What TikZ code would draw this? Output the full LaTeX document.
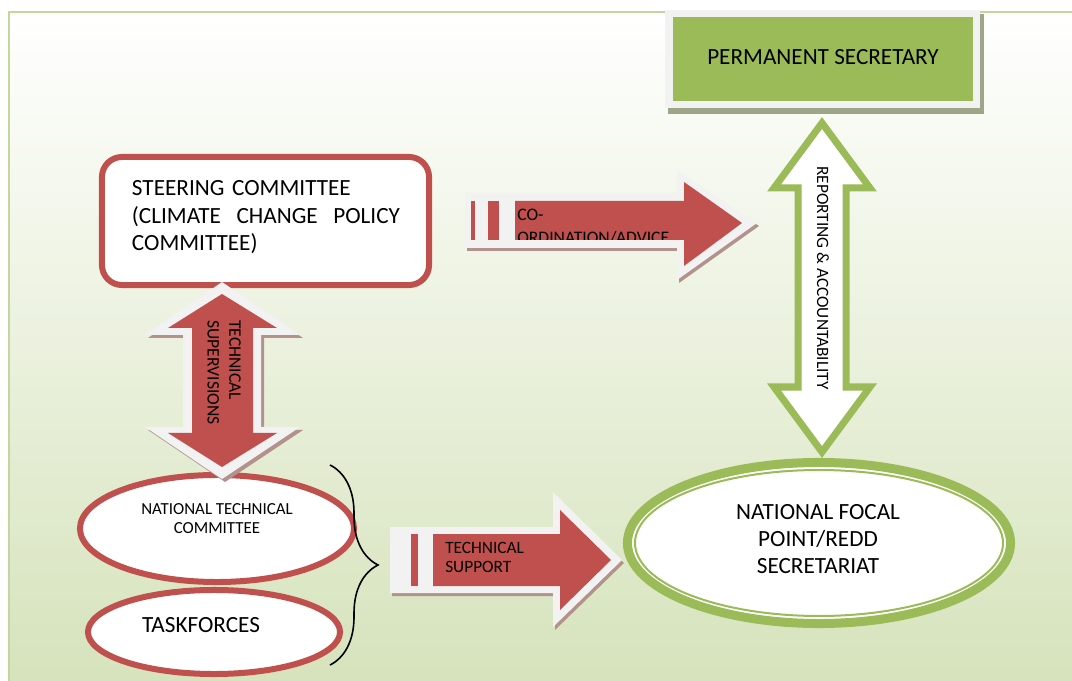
\documentclass[tikz,border=0pt]{standalone}
\usepackage{fontspec}
\setmainfont{Carlito}
\usetikzlibrary{shapes.geometric,decorations.pathreplacing}
\definecolor{redc}{HTML}{C0504D}
\definecolor{greenc}{HTML}{9BBB59}
\definecolor{grayb}{HTML}{F2F2F2}
\definecolor{framec}{HTML}{C3D69B}
\definecolor{bgg}{HTML}{D6E3BC}
\definecolor{shadowc}{RGB}{178,146,138}
\definecolor{shadowg}{RGB}{158,166,138}
\tikzset{
  oval/.style = {ellipse, draw=#1, fill=white, line width=0.15cm,
                 inner sep=0pt},
  oval/.default = redc,
  big/.style = {font=\fontsize{16.5}{19.5}\selectfont},
  small/.style = {font=\fontsize{12.3}{13.8}\selectfont, inner sep=0pt},
  shade/.style = {fill=shadowc}
}

\begin{document}
\begin{tikzpicture}[x=0.025cm, y=-0.025cm]
	\useasboundingbox (0,0) rectangle (1072,681);

	% Background and frame
	\fill[white] (0,0) rectangle (1072,681);
	\shade[top color=white, bottom color=bgg] (9,12) rectangle (1072,681);
	\draw[framec, line width=0.05cm] (1072,12) -- (9,12) -- (9,681);

	% Permanent secretary
	\fill[shadowg] (668,108) rectangle (984,114);
	\fill[shadowg] (980,14) rectangle (984,114);
	\fill[grayb] (665,10) rectangle (980,108);
	\node[big, fill=greenc, minimum width=7.5cm, minimum height=2.1cm, text depth=0.1cm] (ps) at (823,59) {PERMANENT SECRETARY};

	% Committees
	\node[draw=redc, fill=white, line width=0.15cm, rounded corners=0.5cm,
	      minimum width=8.175cm, minimum height=3.2cm] (steer) at (265.5,221) {};
	\node[big, inner sep=0pt, text width=6.7cm, align=left] (steerlabel) at (266,217.5)
	      {STEERING COMMITTEE\\(CLIMATE\hfill CHANGE\hfill POLICY\\COMMITTEE)};
	\node[oval, minimum width=6.85cm, minimum height=2.675cm] (ntc) at (217,528.5) {};
	\node[small, font=\fontsize{12}{13.5}\selectfont, align=center] (ntclabel) at (217,519) {NATIONAL TECHNICAL\\COMMITTEE};
	\node[oval, minimum width=6.3cm, minimum height=2.1cm] (task) at (214,632) {};
	\node[big, inner sep=0pt] (tasklabel) at (201,625) {TASKFORCES};

	% Focal point
	\node[oval=greenc, line width=0.225cm, minimum width=9.575cm, minimum height=4.025cm] (nfp) at (819,543) {};
	\draw[greenc, line width=0.05cm] (nfp.center) ellipse [x radius=184, y radius=73];
	\node[big, inner sep=0pt, align=center] (nfplabel) at (818,539) {NATIONAL FOCAL\\POINT/REDD\\SECRETARIAT};

	% Brace
	\coordinate (braceTop) at (330,465);
	\coordinate (braceBot) at (330,665);
	\draw[black, line width=0.04cm, decorate, decoration={brace, amplitude=1.2cm}] (braceTop) -- (braceBot);

	% Co-ordination arrow
	\fill[shade] (467,196) -- (679,196) -- (679,173) -- (759,226) -- (679,283) -- (679,251) -- (467,251) -- cycle;
	\fill[grayb] (465,193) -- (677,193) -- (677,170) -- (757,223) -- (677,280) -- (677,248) -- (465,248) -- cycle;
	\fill[redc] (515,201) -- (684,201) -- (684,182) -- (742,223) -- (684,266) -- (684,240) -- (515,240) -- cycle;
	\fill[redc] (471,201) rectangle (475,240);
	\fill[redc] (488,201) rectangle (499,240);
	\begin{scope}
		\clip (515,201) rectangle (684,240);
		\node[small, font=\fontsize{12.5}{16}\selectfont, align=left, anchor=north west] (coordlabel) at (517,209) {CO-\\ORDINATION/ADVICE};
	\end{scope}

	% Technical support arrow
	\fill[shade] (392,530) -- (555,530) -- (555,495) -- (624,563) -- (555,630) -- (555,596) -- (392,596) -- cycle;
	\fill[grayb] (390,527) -- (553,527) -- (553,492) -- (622,560) -- (553,627) -- (553,593) -- (390,593) -- cycle;
	\fill[redc] (433,534) -- (560,534) -- (560,510) -- (611,560) -- (560,610) -- (560,586) -- (433,586) -- cycle;
	\fill[redc] (411,534) rectangle (418,586);
	\node[small, align=left, anchor=north west] (supportlabel) at (445,542) {TECHNICAL\\SUPPORT};

	% Technical supervisions arrow
	\fill[shade] (225,285) -- (303,338) -- (264,338) -- (264,430) -- (303,430) -- (225,482) -- (148,430) -- (186,430) -- (186,338) -- (148,338) -- cycle;
	\fill[grayb] (222,282) -- (300,335) -- (261,335) -- (261,427) -- (300,427) -- (222,479) -- (145,427) -- (183,427) -- (183,335) -- (145,335) -- cycle;
	\fill[redc] (222,294) -- (277,328) -- (253,328) -- (253,433) -- (277,433) -- (222,467) -- (168,433) -- (192,433) -- (192,328) -- (168,328) -- cycle;
	\node[small, font=\fontsize{12.5}{15.5}\selectfont, align=left, rotate=-90, anchor=north west] (supervlabel) at (241,320) {TECHNICAL\\SUPERVISIONS};

	% Reporting arrow
	\draw[greenc, fill=white, line width=0.175cm, miter limit=3]
		(822,123) -- (870,188) -- (846,188) -- (846,387) -- (870,387) -- (822,452) -- (774,387) -- (798,387) -- (798,188) -- (774,188) -- cycle;
	\node[small, rotate=-90] (reportlabel) at (823,278) {REPORTING \& ACCOUNTABILITY};

\end{tikzpicture}
\end{document}
